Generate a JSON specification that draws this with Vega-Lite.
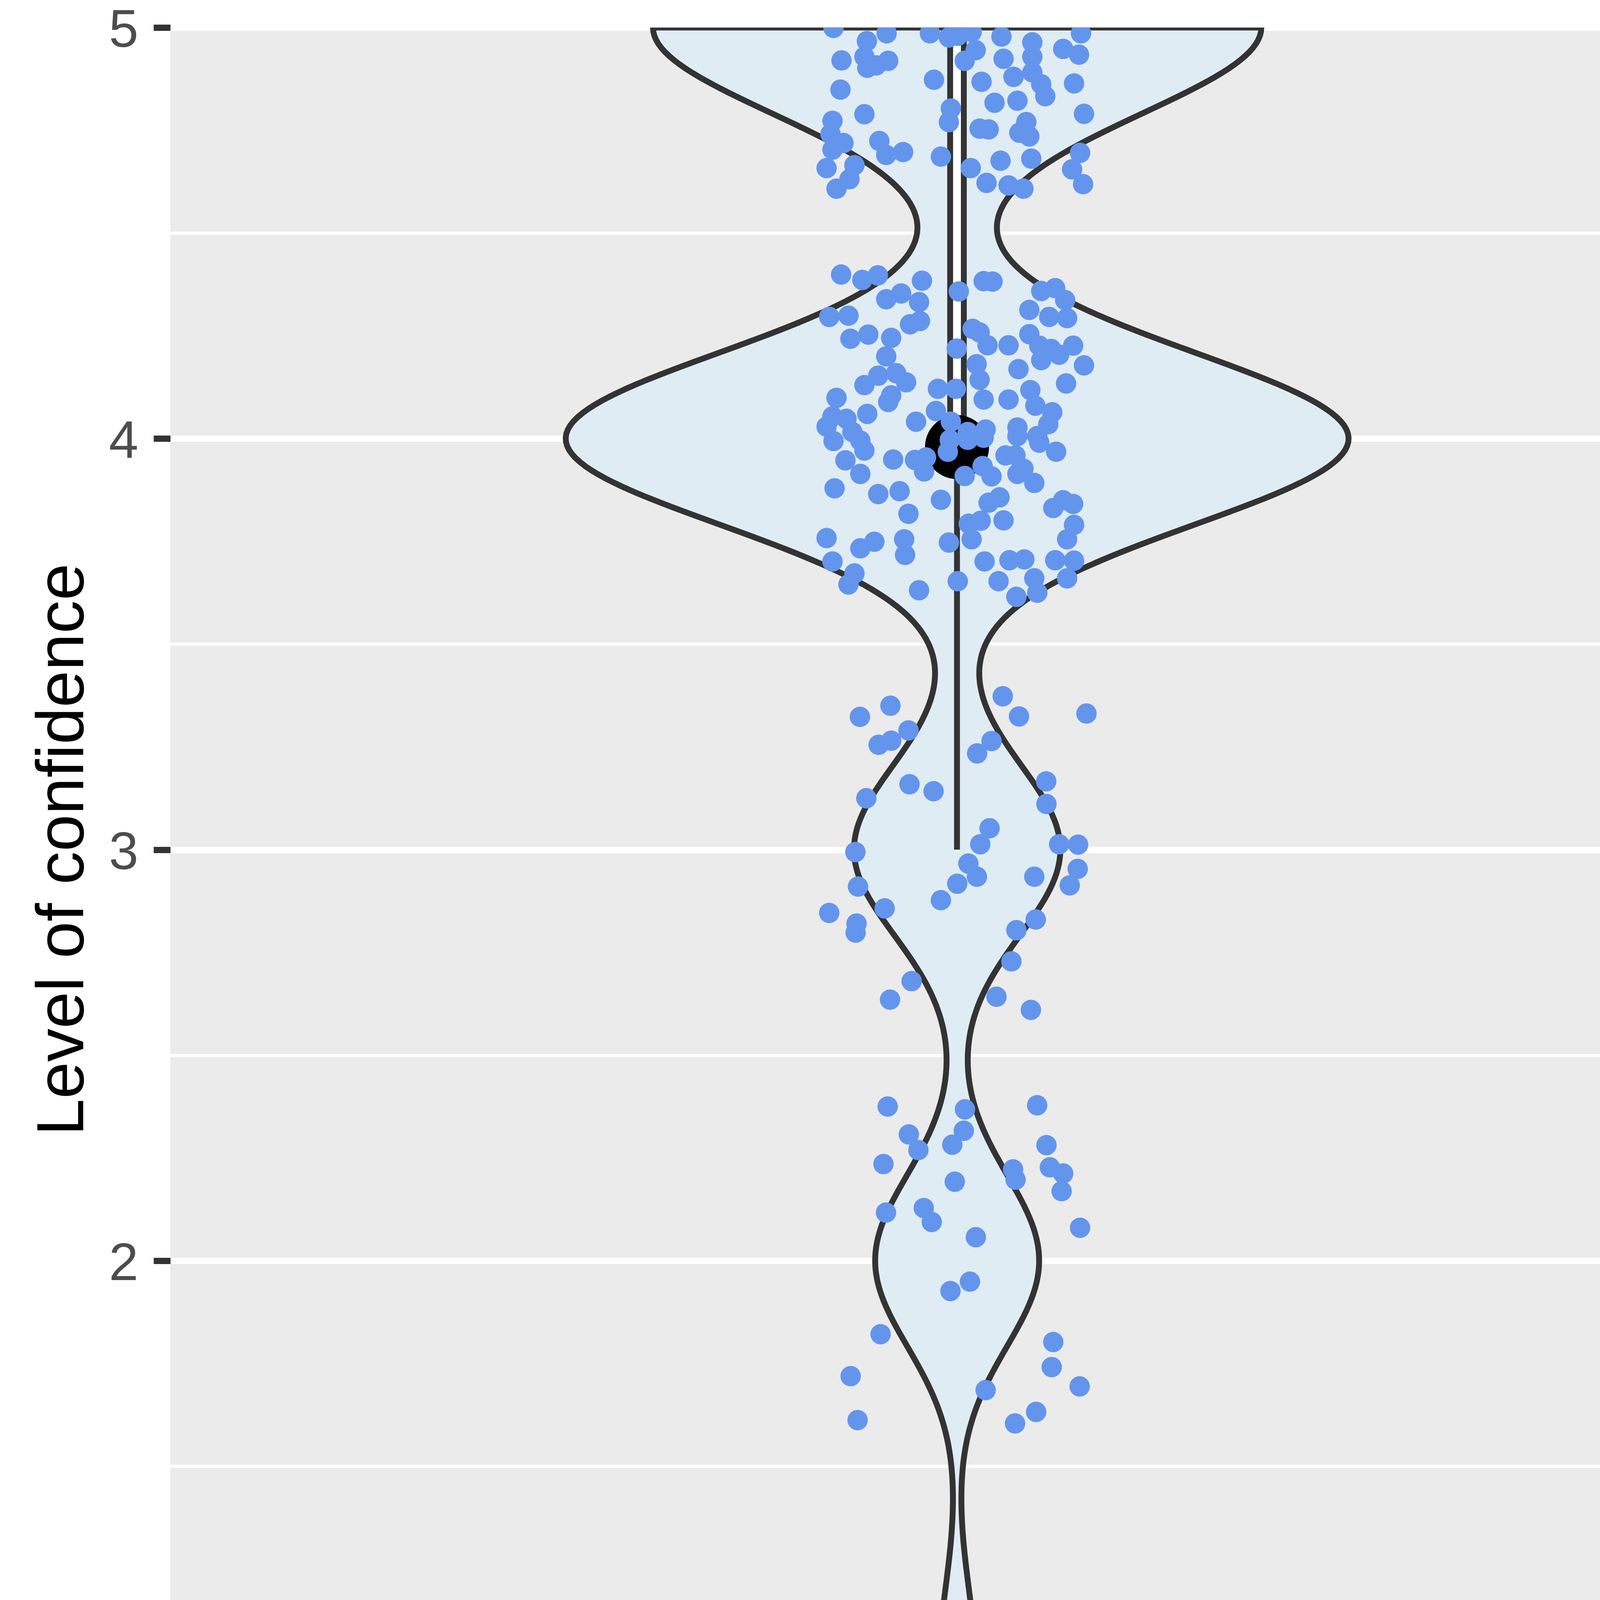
{
  "$schema": "https://vega.github.io/schema/vega-lite/v6.json",
  "background": "white",
  "padding": {"left": 76, "top": 10.5, "right": 80, "bottom": 75},
  "bounds": "flush",
  "spacing": 0,
  "config": {
    "font": "Liberation Sans",
    "view": {"fill": "#EBEBEB", "stroke": null},
    "concat": {"spacing": 0}
  },
  "datasets": {
    "control": [
      {"v":5,"jx":-0.0944,"jy":4.999},{"v":5,"jx":-0.0538,"jy":4.986},{"v":5,"jx":-0.0689,"jy":4.967},{"v":5,"jx":-0.0883,"jy":4.920},{"v":5,"jx":-0.0708,"jy":4.929},{"v":5,"jx":-0.0686,"jy":4.902},{"v":5,"jx":-0.0617,"jy":4.908},{"v":5,"jx":-0.0526,"jy":4.919},{"v":5,"jx":-0.0207,"jy":4.986},{"v":5,"jx":-0.0062,"jy":4.976},
      {"v":5,"jx":0.0006,"jy":4.980},{"v":5,"jx":0.0112,"jy":4.989},{"v":5,"jx":0.0143,"jy":4.945},{"v":5,"jx":0.0340,"jy":4.978},{"v":5,"jx":0.0576,"jy":4.964},{"v":5,"jx":0.0576,"jy":4.929},{"v":5,"jx":0.0356,"jy":4.924},{"v":5,"jx":0.0059,"jy":4.919},{"v":5,"jx":0.0948,"jy":4.986},{"v":5,"jx":0.0812,"jy":4.948},
      {"v":5,"jx":0.0933,"jy":4.934},{"v":5,"jx":-0.0891,"jy":4.849},{"v":5,"jx":-0.0176,"jy":4.873},{"v":5,"jx":0.0188,"jy":4.868},{"v":5,"jx":0.0432,"jy":4.880},{"v":5,"jx":0.0576,"jy":4.891},{"v":5,"jx":0.0644,"jy":4.862},{"v":5,"jx":0.0675,"jy":4.833},{"v":5,"jx":0.0895,"jy":4.864},{"v":5,"jx":0.0287,"jy":4.817},
      {"v":5,"jx":0.0462,"jy":4.822},{"v":5,"jx":0.0971,"jy":4.790},{"v":5,"jx":-0.0047,"jy":4.803},{"v":5,"jx":-0.0062,"jy":4.770},{"v":5,"jx":-0.0952,"jy":4.773},{"v":5,"jx":-0.0708,"jy":4.789},{"v":5,"jx":-0.0868,"jy":4.719},{"v":5,"jx":-0.0967,"jy":4.741},{"v":5,"jx":-0.0952,"jy":4.703},{"v":5,"jx":-0.0997,"jy":4.658},
      {"v":5,"jx":-0.0784,"jy":4.665},{"v":5,"jx":-0.0822,"jy":4.631},{"v":5,"jx":-0.0921,"jy":4.608},{"v":5,"jx":-0.0594,"jy":4.724},{"v":5,"jx":-0.0541,"jy":4.690},{"v":5,"jx":-0.0412,"jy":4.697},{"v":5,"jx":-0.0123,"jy":4.686},{"v":5,"jx":0.0173,"jy":4.754},{"v":5,"jx":0.0242,"jy":4.752},{"v":5,"jx":0.0530,"jy":4.770},
      {"v":5,"jx":0.0477,"jy":4.744},{"v":5,"jx":0.0553,"jy":4.735},{"v":5,"jx":0.0333,"jy":4.676},{"v":5,"jx":0.0568,"jy":4.681},{"v":5,"jx":0.0941,"jy":4.695},{"v":5,"jx":0.0880,"jy":4.655},{"v":5,"jx":0.0964,"jy":4.619},{"v":5,"jx":0.0105,"jy":4.658},{"v":5,"jx":0.0226,"jy":4.622},{"v":5,"jx":0.0394,"jy":4.616},
      {"v":5,"jx":0.0508,"jy":4.608},
      {"v":5},{"v":5},{"v":5},{"v":5},{"v":5},{"v":5},{"v":5},{"v":5},{"v":5},{"v":5},
      {"v":5},{"v":5},{"v":5},{"v":5},{"v":5},{"v":5},{"v":5},{"v":5},{"v":5},{"v":5},
      {"v":5},{"v":5},{"v":5},{"v":5},{"v":5},{"v":5},{"v":5},{"v":5},{"v":5},{"v":5},
      {"v":5},{"v":5},{"v":5},{"v":5},{"v":5},{"v":5},{"v":5},{"v":5},{"v":5},{"v":5},
      {"v":5},{"v":5},{"v":5},{"v":5},{"v":5},{"v":5},{"v":5},{"v":5},{"v":5},{"v":5},
      {"v":5},{"v":5},{"v":5},{"v":5},
      {"v":4,"jx":-0.0886,"jy":4.399},{"v":4,"jx":-0.0724,"jy":4.386},{"v":4,"jx":-0.0605,"jy":4.397},{"v":4,"jx":-0.0268,"jy":4.384},{"v":4,"jx":-0.0541,"jy":4.339},{"v":4,"jx":-0.0427,"jy":4.353},{"v":4,"jx":-0.0290,"jy":4.332},{"v":4,"jx":-0.0359,"jy":4.278},{"v":4,"jx":-0.0283,"jy":4.286},{"v":4,"jx":-0.0977,"jy":4.296},
      {"v":4,"jx":-0.0830,"jy":4.299},{"v":4,"jx":-0.0815,"jy":4.243},{"v":4,"jx":-0.0678,"jy":4.253},{"v":4,"jx":-0.0503,"jy":4.245},{"v":4,"jx":-0.0541,"jy":4.200},{"v":4,"jx":-0.0602,"jy":4.153},{"v":4,"jx":-0.0465,"jy":4.159},{"v":4,"jx":-0.0389,"jy":4.137},{"v":4,"jx":-0.0708,"jy":4.130},{"v":4,"jx":-0.0503,"jy":4.105},
      {"v":4,"jx":-0.0526,"jy":4.089},{"v":4,"jx":0.0014,"jy":4.358},{"v":4,"jx":0.0204,"jy":4.383},{"v":4,"jx":0.0272,"jy":4.382},{"v":4,"jx":0.0120,"jy":4.267},{"v":4,"jx":0.0173,"jy":4.258},{"v":4,"jx":-0.0002,"jy":4.219},{"v":4,"jx":0.0234,"jy":4.227},{"v":4,"jx":0.0394,"jy":4.227},{"v":4,"jx":0.0553,"jy":4.254},
      {"v":4,"jx":0.0629,"jy":4.226},{"v":4,"jx":0.0720,"jy":4.218},{"v":4,"jx":0.0888,"jy":4.226},{"v":4,"jx":0.0644,"jy":4.359},{"v":4,"jx":0.0751,"jy":4.366},{"v":4,"jx":0.0827,"jy":4.337},{"v":4,"jx":0.0553,"jy":4.313},{"v":4,"jx":0.0705,"jy":4.296},{"v":4,"jx":0.0842,"jy":4.293},{"v":4,"jx":0.0470,"jy":4.169},
      {"v":4,"jx":0.0971,"jy":4.178},{"v":4,"jx":0.0644,"jy":4.191},{"v":4,"jx":0.0781,"jy":4.204},{"v":4,"jx":0.0150,"jy":4.181},{"v":4,"jx":0.0834,"jy":4.134},{"v":4,"jx":0.0394,"jy":4.095},{"v":4,"jx":0.0561,"jy":4.118},{"v":4,"jx":0.0599,"jy":4.080},{"v":4,"jx":0.0728,"jy":4.064},{"v":4,"jx":0.0462,"jy":4.027},
      {"v":4,"jx":0.0698,"jy":4.035},{"v":4,"jx":0.0614,"jy":4.006},{"v":4,"jx":0.0173,"jy":4.143},{"v":4,"jx":0.0204,"jy":4.095},{"v":4,"jx":-0.0009,"jy":4.121},{"v":4,"jx":-0.0146,"jy":4.121},{"v":4,"jx":-0.0161,"jy":4.067},{"v":4,"jx":-0.0313,"jy":4.041},{"v":4,"jx":-0.0047,"jy":4.041},{"v":4,"jx":0.0082,"jy":4.016},
      {"v":4,"jx":0.0219,"jy":4.022},{"v":4,"jx":-0.0921,"jy":4.099},{"v":4,"jx":-0.0686,"jy":4.060},{"v":4,"jx":-0.0845,"jy":4.048},{"v":4,"jx":-0.0997,"jy":4.029},{"v":4,"jx":-0.0952,"jy":4.054},{"v":4,"jx":-0.0800,"jy":4.016},{"v":4,"jx":-0.0055,"jy":3.997},{"v":4,"jx":-0.0739,"jy":3.995},
      {"v":4,"jx":-0.0944,"jy":3.994},{"v":4,"jx":-0.0708,"jy":3.971},{"v":4,"jx":-0.0853,"jy":3.947},{"v":4,"jx":-0.0739,"jy":3.914},{"v":4,"jx":-0.0488,"jy":3.949},{"v":4,"jx":-0.0321,"jy":3.948},{"v":4,"jx":-0.0237,"jy":3.954},{"v":4,"jx":-0.0070,"jy":3.968},{"v":4,"jx":-0.0252,"jy":3.920},{"v":4,"jx":0.0082,"jy":3.997},
      {"v":4,"jx":0.0204,"jy":4.002},{"v":4,"jx":0.0196,"jy":3.933},{"v":4,"jx":0.0059,"jy":3.909},{"v":4,"jx":0.0264,"jy":3.908},{"v":4,"jx":0.0371,"jy":3.959},{"v":4,"jx":0.0447,"jy":3.959},{"v":4,"jx":0.0508,"jy":3.927},{"v":4,"jx":0.0462,"jy":3.914},{"v":4,"jx":0.0591,"jy":3.892},{"v":4,"jx":0.0462,"jy":4.006},
      {"v":4,"jx":0.0629,"jy":3.990},{"v":4,"jx":0.0758,"jy":3.968},{"v":4,"jx":-0.0936,"jy":3.879},{"v":4,"jx":-0.0602,"jy":3.865},{"v":4,"jx":-0.0439,"jy":3.872},{"v":4,"jx":-0.0371,"jy":3.817},{"v":4,"jx":-0.0123,"jy":3.851},{"v":4,"jx":0.0242,"jy":3.844},{"v":4,"jx":0.0325,"jy":3.857},{"v":4,"jx":0.0356,"jy":3.801},
      {"v":4,"jx":0.0181,"jy":3.800},{"v":4,"jx":0.0090,"jy":3.793},{"v":4,"jx":0.0112,"jy":3.755},{"v":4,"jx":0.0736,"jy":3.831},{"v":4,"jx":0.0812,"jy":3.850},{"v":4,"jx":0.0888,"jy":3.841},{"v":4,"jx":0.0895,"jy":3.790},{"v":4,"jx":0.0842,"jy":3.755},{"v":4,"jx":0.0751,"jy":3.704},{"v":4,"jx":0.0895,"jy":3.703},
      {"v":4,"jx":0.0842,"jy":3.660},{"v":4,"jx":-0.0997,"jy":3.758},{"v":4,"jx":-0.0952,"jy":3.701},{"v":4,"jx":-0.0739,"jy":3.733},{"v":4,"jx":-0.0632,"jy":3.749},{"v":4,"jx":-0.0404,"jy":3.755},{"v":4,"jx":-0.0397,"jy":3.717},{"v":4,"jx":-0.0062,"jy":3.747},{"v":4,"jx":-0.0784,"jy":3.672},{"v":4,"jx":-0.0830,"jy":3.645},
      {"v":4,"jx":0.0211,"jy":3.701},{"v":4,"jx":0.0401,"jy":3.704},{"v":4,"jx":0.0515,"jy":3.706},{"v":4,"jx":0.0318,"jy":3.653},{"v":4,"jx":0.0591,"jy":3.660},{"v":4,"jx":0.0614,"jy":3.625},{"v":4,"jx":0.0454,"jy":3.615},{"v":4,"jx":0.0006,"jy":3.653},{"v":4,"jx":-0.0290,"jy":3.631},
      {"v":4},{"v":4},{"v":4},{"v":4},{"v":4},{"v":4},{"v":4},{"v":4},{"v":4},{"v":4},
      {"v":4},{"v":4},{"v":4},{"v":4},{"v":4},{"v":4},{"v":4},{"v":4},{"v":4},{"v":4},
      {"v":3,"jx":-0.0742,"jy":3.323},{"v":3,"jx":-0.0509,"jy":3.350},{"v":3,"jx":-0.0371,"jy":3.290},{"v":3,"jx":-0.0599,"jy":3.255},{"v":3,"jx":-0.0503,"jy":3.265},{"v":3,"jx":0.0350,"jy":3.373},{"v":3,"jx":0.0474,"jy":3.324},{"v":3,"jx":0.0990,"jy":3.331},{"v":3,"jx":0.0154,"jy":3.234},{"v":3,"jx":0.0264,"jy":3.264},
      {"v":3,"jx":-0.0363,"jy":3.159},{"v":3,"jx":-0.0179,"jy":3.142},{"v":3,"jx":-0.0693,"jy":3.125},{"v":3,"jx":0.0682,"jy":3.166},{"v":3,"jx":0.0684,"jy":3.111},{"v":3,"jx":0.0249,"jy":3.052},{"v":3,"jx":0.0178,"jy":3.013},{"v":3,"jx":0.0781,"jy":3.013},{"v":3,"jx":0.0926,"jy":3.012},{"v":3,"jx":-0.0777,"jy":2.994},
      {"v":3,"jx":0.0087,"jy":2.966},{"v":3,"jx":0.0152,"jy":2.934},{"v":3,"jx":0.0923,"jy":2.953},{"v":3,"jx":0.0591,"jy":2.934},{"v":3,"jx":0.0002,"jy":2.917},{"v":3,"jx":0.0862,"jy":2.913},{"v":3,"jx":-0.0757,"jy":2.910},{"v":3,"jx":-0.0123,"jy":2.877},{"v":3,"jx":-0.0977,"jy":2.846},{"v":3,"jx":-0.0553,"jy":2.857},
      {"v":3,"jx":-0.0768,"jy":2.820},{"v":3,"jx":-0.0775,"jy":2.798},{"v":3,"jx":0.0602,"jy":2.830},{"v":3,"jx":0.0454,"jy":2.804},{"v":3,"jx":0.0416,"jy":2.728},{"v":3,"jx":-0.0347,"jy":2.680},{"v":3,"jx":-0.0512,"jy":2.635},{"v":3,"jx":0.0302,"jy":2.642},{"v":3,"jx":0.0565,"jy":2.610},
      {"v":2,"jx":-0.0530,"jy":2.375},{"v":2,"jx":0.0613,"jy":2.378},{"v":2,"jx":0.0061,"jy":2.368},{"v":2,"jx":-0.0368,"jy":2.307},{"v":2,"jx":0.0052,"jy":2.316},{"v":2,"jx":-0.0295,"jy":2.269},{"v":2,"jx":-0.0036,"jy":2.282},{"v":2,"jx":0.0684,"jy":2.281},{"v":2,"jx":-0.0562,"jy":2.235},{"v":2,"jx":0.0429,"jy":2.222},
      {"v":2,"jx":0.0710,"jy":2.227},{"v":2,"jx":0.0812,"jy":2.212},{"v":2,"jx":0.0448,"jy":2.197},{"v":2,"jx":0.0800,"jy":2.169},{"v":2,"jx":-0.0017,"jy":2.192},{"v":2,"jx":-0.0543,"jy":2.117},{"v":2,"jx":-0.0254,"jy":2.128},{"v":2,"jx":-0.0193,"jy":2.094},{"v":2,"jx":0.0144,"jy":2.057},{"v":2,"jx":0.0941,"jy":2.080},
      {"v":2,"jx":0.0099,"jy":1.949},{"v":2,"jx":-0.0050,"jy":1.926},{"v":2,"jx":-0.0584,"jy":1.821},{"v":2,"jx":0.0736,"jy":1.802},{"v":2,"jx":0.0724,"jy":1.741},{"v":2,"jx":-0.0813,"jy":1.719},{"v":2,"jx":0.0938,"jy":1.694},{"v":2,"jx":0.0219,"jy":1.685},{"v":2,"jx":0.0605,"jy":1.632},{"v":2,"jx":0.0444,"jy":1.604},
      {"v":2,"jx":-0.0760,"jy":1.612},
      {"v":1,"jx":0.0410,"jy":1.112},{"v":1,"jx":0.0845,"jy":1.138},
      {"v":1},{"v":1},{"v":1},{"v":1},{"v":1}
    ],
    "treatment": [
      {"v":5,"jx":-0.0923,"jy":4.989},{"v":5,"jx":-0.0274,"jy":4.953},{"v":5,"jx":-0.0178,"jy":4.900},{"v":5,"jx":-0.0027,"jy":4.919},{"v":5,"jx":0.0160,"jy":4.963},{"v":5,"jx":0.0304,"jy":4.956},{"v":5,"jx":0.0266,"jy":4.919},{"v":5,"jx":0.0251,"jy":4.905},{"v":5,"jx":0.0524,"jy":4.920},{"v":5,"jx":0.0448,"jy":4.873},
      {"v":5,"jx":0.0676,"jy":4.852},{"v":5,"jx":0.0889,"jy":4.861},{"v":5,"jx":0.0874,"jy":4.830},{"v":5,"jx":0.0958,"jy":4.827},{"v":5,"jx":0.0395,"jy":4.813},{"v":5,"jx":0.0532,"jy":4.817},{"v":5,"jx":0.0730,"jy":4.774},{"v":5,"jx":0.0692,"jy":4.719},{"v":5,"jx":0.0790,"jy":4.985},{"v":5,"jx":-0.0847,"jy":4.832},
      {"v":5,"jx":-0.0608,"jy":4.820},{"v":5,"jx":-0.0631,"jy":4.789},{"v":5,"jx":-0.0464,"jy":4.849},{"v":5,"jx":-0.0854,"jy":4.774},{"v":5,"jx":-0.0775,"jy":4.747},{"v":5,"jx":-0.0372,"jy":4.765},{"v":5,"jx":-0.0258,"jy":4.743},{"v":5,"jx":-0.0122,"jy":4.791},{"v":5,"jx":-0.0061,"jy":4.755},{"v":5,"jx":-0.0152,"jy":4.699},
      {"v":5,"jx":-0.0357,"jy":4.670},{"v":5,"jx":-0.0372,"jy":4.615},{"v":5,"jx":0.0129,"jy":4.719},{"v":5,"jx":0.0296,"jy":4.721},{"v":5,"jx":0.0327,"jy":4.697},
      {"v":5},{"v":5},{"v":5},{"v":5},{"v":5},{"v":5},{"v":5},{"v":5},{"v":5},{"v":5},
      {"v":5},{"v":5},{"v":5},{"v":5},{"v":5},{"v":5},{"v":5},{"v":5},{"v":5},{"v":5},
      {"v":5},{"v":5},{"v":5},{"v":5},{"v":5},{"v":5},{"v":5},{"v":5},{"v":5},{"v":5},
      {"v":5},{"v":5},{"v":5},{"v":5},{"v":5},{"v":5},{"v":5},{"v":5},
      {"v":4,"jx":-0.0714,"jy":4.398},{"v":4,"jx":-0.0851,"jy":4.349},{"v":4,"jx":-0.0859,"jy":4.320},{"v":4,"jx":-0.0935,"jy":4.301},{"v":4,"jx":-0.0395,"jy":4.378},{"v":4,"jx":-0.0319,"jy":4.378},{"v":4,"jx":0.0524,"jy":4.387},{"v":4,"jx":0.0684,"jy":4.362},{"v":4,"jx":0.0783,"jy":4.368},{"v":4,"jx":0.0783,"jy":4.330},
      {"v":4,"jx":-0.0980,"jy":4.199},{"v":4,"jx":-0.0702,"jy":4.164},{"v":4,"jx":-0.0894,"jy":4.106},{"v":4,"jx":-0.0912,"jy":4.033},{"v":4,"jx":-0.0512,"jy":4.055},{"v":4,"jx":-0.0246,"jy":4.068},{"v":4,"jx":-0.0334,"jy":3.978},{"v":4,"jx":-0.0179,"jy":3.950},{"v":4,"jx":-0.0400,"jy":3.881},{"v":4,"jx":-0.0950,"jy":3.859},
      {"v":4,"jx":-0.0760,"jy":3.848},{"v":4,"jx":-0.0646,"jy":3.764},{"v":4,"jx":-0.0216,"jy":3.784},{"v":4,"jx":-0.0201,"jy":3.755},{"v":4,"jx":-0.0423,"jy":3.720},{"v":4,"jx":-0.0690,"jy":3.676},{"v":4,"jx":-0.0506,"jy":3.637},{"v":4,"jx":-0.0429,"jy":3.663},{"v":4,"jx":-0.0365,"jy":3.662},{"v":4,"jx":0.0322,"jy":4.145},
      {"v":4,"jx":0.0465,"jy":4.175},{"v":4,"jx":0.0567,"jy":4.150},{"v":4,"jx":0.0049,"jy":4.026},{"v":4,"jx":0.0164,"jy":3.953},{"v":4,"jx":0.0441,"jy":3.972},{"v":4,"jx":0.0608,"jy":4.025},{"v":4,"jx":0.0714,"jy":3.969},{"v":4,"jx":0.0342,"jy":3.905},{"v":4,"jx":0.0486,"jy":3.918},{"v":4,"jx":0.0322,"jy":3.883},
      {"v":4,"jx":0.0185,"jy":3.838},{"v":4,"jx":0.0509,"jy":3.854},{"v":4,"jx":0.0684,"jy":3.796},{"v":4,"jx":0.0109,"jy":3.726},{"v":4,"jx":0.0271,"jy":3.736},{"v":4,"jx":0.0654,"jy":3.739},{"v":4,"jx":0.0711,"jy":3.720},{"v":4,"jx":0.0307,"jy":3.681},{"v":4,"jx":0.0286,"jy":3.667},{"v":4,"jx":0.0573,"jy":3.619},
      {"v":4,"jx":0.0935,"jy":3.697},{"v":4,"jx":0.0930,"jy":3.648},{"v":4,"jx":0.0866,"jy":3.605},
      {"v":4},{"v":4},{"v":4},{"v":4},
      {"v":3,"jx":-0.0924,"jy":3.336},{"v":3,"jx":-0.0254,"jy":3.321},{"v":3,"jx":0.0570,"jy":3.371},{"v":3,"jx":0.0886,"jy":3.342},{"v":3,"jx":-0.0328,"jy":3.075},{"v":3,"jx":-0.0140,"jy":3.064},{"v":3,"jx":0.0122,"jy":3.115},{"v":3,"jx":-0.0331,"jy":3.008},{"v":3,"jx":-0.0581,"jy":2.966},{"v":3,"jx":0.0657,"jy":2.934},
      {"v":3,"jx":0.0064,"jy":2.864},{"v":3,"jx":-0.0777,"jy":2.684},{"v":3,"jx":-0.0500,"jy":2.702},{"v":3,"jx":0.0631,"jy":2.607},{"v":3,"jx":0.0924,"jy":2.615},
      {"v":2,"jx":0.0287,"jy":2.327},{"v":2,"jx":-0.0231,"jy":2.225},{"v":2,"jx":-0.0904,"jy":2.243},{"v":2,"jx":-0.0760,"jy":2.116},{"v":2,"jx":-0.0988,"jy":1.794},{"v":2,"jx":0.0451,"jy":1.727},{"v":2,"jx":-0.0084,"jy":1.602},
      {"v":1,"jx":0.0947,"jy":1.382},{"v":1,"jx":0.0451,"jy":1.255},{"v":1,"jx":-0.0205,"jy":1.173},
      {"v":1}
    ]
  },
  "hconcat": [
    {
      "width": 3693,
      "height": 4209,
      "data": {"name": "control"},
      "resolve": {"scale": {"x": "independent"}},
      "layer": [
        {
          "transform": [{"density": "v", "bandwidth": 0.2093, "extent": [1, 5], "steps": 401, "as": ["value", "density"]}],
          "mark": {"type": "area", "orient": "horizontal", "fill": "#E0ECF4", "stroke": "#333333", "strokeWidth": 15, "clip": true},
          "encoding": {
            "y": {
              "field": "value", "type": "quantitative",
              "scale": {"domain": [1, 5], "nice": false, "zero": false},
              "axis": {
                "values": [1, 1.5, 2, 2.5, 3, 3.5, 4, 4.5, 5],
                "labelExpr": "datum.value % 1 === 0 ? format(datum.value, 'd') : ''",
                "title": "Level of confidence",
                "grid": true,
                "gridColor": "#FFFFFF",
                "gridWidth": {"condition": {"test": "datum.value % 1 === 0", "value": 16}, "value": 8},
                "domain": false,
                "ticks": true,
                "tickSize": 43,
                "tickWidth": 16,
                "tickColor": {"condition": {"test": "datum.value % 1 === 0", "value": "#333333"}, "value": "rgba(0,0,0,0)"},
                "labelFont": "Liberation Sans",
                "labelFontSize": 136,
                "labelColor": "#4D4D4D",
                "labelPadding": 39,
                "labelAlign": "right",
                "labelBaseline": "alphabetic",
                "labelOffset": 49,
                "labelLimit": 1000,
                "labelFlush": false,
                "labelOverlap": false,
                "labelBound": false,
                "titleFont": "Liberation Sans",
                "titleFontSize": 170,
                "titleFontWeight": "normal",
                "titleColor": "#000000",
                "titleAngle": 270,
                "titleX": -224,
                "titleY": 2104,
                "titleAlign": "center",
                "titleBaseline": "alphabetic",
                "titleLimit": 5000
              }
            },
            "x": {
              "field": "density", "type": "quantitative", "stack": "center",
              "scale": {"domain": [-0.41904, 1.10976], "nice": false, "zero": false},
              "axis": null
            }
          }
        },
        {
          "layer": [
            {
              "transform": [
                {"joinaggregate": [{"op": "q1", "field": "v", "as": "q1"}, {"op": "q3", "field": "v", "as": "q3"}]},
                {"filter": "datum.v >= datum.q1 - 1.5 * (datum.q3 - datum.q1)"},
                {"aggregate": [{"op": "min", "field": "v", "as": "lo"}, {"op": "max", "field": "q1", "as": "q1"}, {"op": "max", "field": "q3", "as": "q3"}]}
              ],
              "layer": [
                {
                  "mark": {"type": "rule", "color": "#333333", "strokeWidth": 15, "clip": true},
                  "encoding": {
                    "x": {
                      "datum": 0, "type": "quantitative",
                      "scale": {"domain": [-0.6, 0.5], "nice": false, "zero": false},
                      "axis": {
                        "values": [0],
                        "labelExpr": "'Control'",
                        "title": "Treatment vs. Control",
                        "grid": false,
                        "domain": false,
                        "ticks": true,
                        "tickSize": 43,
                        "tickWidth": 16,
                        "tickColor": "#333333",
                        "labelFont": "Liberation Sans",
                        "labelFontSize": 136,
                        "labelColor": "#4D4D4D",
                        "labelBaseline": "alphabetic",
                        "labelPadding": 134,
                        "labelAlign": "center",
                        "labelLimit": 1000,
                        "labelFlush": false,
                        "labelOverlap": false,
                        "titleFont": "Liberation Sans",
                        "titleFontSize": 170,
                        "titleFontWeight": "normal",
                        "titleColor": "#000000",
                        "titleX": 3693,
                        "titleY": 368,
                        "titleAlign": "center",
                        "titleBaseline": "alphabetic",
                        "titleLimit": 5000
                      }
                    },
                    "y": {"field": "lo", "type": "quantitative", "scale": {"domain": [1, 5], "nice": false, "zero": false}},
                    "y2": {"field": "q1"}
                  }
                },
                {
                  "mark": {"type": "bar", "fill": "#FFFFFF", "stroke": "#333333", "strokeWidth": 15, "width": 35, "clip": true},
                  "encoding": {
                    "x": {"datum": 0, "type": "quantitative", "scale": {"domain": [-0.6, 0.5], "nice": false, "zero": false}},
                    "y": {"field": "q1", "type": "quantitative", "scale": {"domain": [1, 5], "nice": false, "zero": false}},
                    "y2": {"field": "q3"}
                  }
                }
              ]
            },
            {
              "transform": [{"aggregate": [{"op": "median", "field": "v", "as": "med"}]}],
              "mark": {"type": "tick", "orient": "horizontal", "color": "#333333", "thickness": 28, "size": 35, "opacity": 1},
              "encoding": {
                "x": {"datum": 0, "type": "quantitative", "scale": {"domain": [-0.6, 0.5], "nice": false, "zero": false}},
                "y": {"field": "med", "type": "quantitative", "scale": {"domain": [1, 5], "nice": false, "zero": false}}
              }
            },
            {
              "transform": [{"aggregate": [{"op": "mean", "field": "v", "as": "mean"}]}],
              "mark": {"type": "point", "filled": true, "color": "#000000", "opacity": 1, "size": 26880, "strokeWidth": 0},
              "encoding": {
                "x": {"datum": 0, "type": "quantitative", "scale": {"domain": [-0.6, 0.5], "nice": false, "zero": false}},
                "y": {"field": "mean", "type": "quantitative", "scale": {"domain": [1, 5], "nice": false, "zero": false}}
              }
            },
            {
              "transform": [{"filter": "isValid(datum.jy)"}],
              "mark": {"type": "point", "filled": true, "color": "#6495ED", "opacity": 1, "size": 2734, "strokeWidth": 0, "clip": true},
              "encoding": {
                "x": {"field": "jx", "type": "quantitative", "scale": {"domain": [-0.6, 0.5], "nice": false, "zero": false}},
                "y": {"field": "jy", "type": "quantitative", "scale": {"domain": [1, 5], "nice": false, "zero": false}}
              }
            }
          ]
        }
      ]
    },
    {
      "width": 3693,
      "height": 4209,
      "data": {"name": "treatment"},
      "resolve": {"scale": {"x": "independent"}},
      "layer": [
        {
          "transform": [{"density": "v", "bandwidth": 0.2446, "extent": [1, 5], "steps": 401, "as": ["value", "density"]}],
          "mark": {"type": "area", "orient": "horizontal", "fill": "#9EBCDA", "stroke": "#333333", "strokeWidth": 15, "clip": true},
          "encoding": {
            "y": {
              "field": "value", "type": "quantitative",
              "scale": {"domain": [1, 5], "nice": false, "zero": false},
              "axis": {
                "values": [1, 1.5, 2, 2.5, 3, 3.5, 4, 4.5, 5],
                "labels": false,
                "ticks": false,
                "domain": false,
                "title": null,
                "grid": true,
                "gridColor": "#FFFFFF",
                "gridWidth": {"condition": {"test": "datum.value % 1 === 0", "value": 16}, "value": 8}
              }
            },
            "x": {
              "field": "density", "type": "quantitative", "stack": "center",
              "scale": {"domain": [-0.31322, 1.21558], "nice": false, "zero": false},
              "axis": null
            }
          }
        },
        {
          "layer": [
            {
              "transform": [
                {"joinaggregate": [{"op": "q1", "field": "v", "as": "q1"}, {"op": "q3", "field": "v", "as": "q3"}]},
                {"filter": "datum.v >= datum.q1 - 1.5 * (datum.q3 - datum.q1)"},
                {"aggregate": [{"op": "min", "field": "v", "as": "lo"}, {"op": "max", "field": "q1", "as": "q1"}, {"op": "max", "field": "q3", "as": "q3"}]}
              ],
              "layer": [
                {
                  "mark": {"type": "rule", "color": "#333333", "strokeWidth": 15, "clip": true},
                  "encoding": {
                    "x": {
                      "datum": 0, "type": "quantitative",
                      "scale": {"domain": [-0.5, 0.6], "nice": false, "zero": false},
                      "axis": {
                        "values": [0],
                        "labelExpr": "'Treatment'",
                        "title": null,
                        "grid": false,
                        "domain": false,
                        "ticks": true,
                        "tickSize": 43,
                        "tickWidth": 16,
                        "tickColor": "#333333",
                        "labelFont": "Liberation Sans",
                        "labelFontSize": 136,
                        "labelColor": "#4D4D4D",
                        "labelBaseline": "alphabetic",
                        "labelPadding": 134,
                        "labelAlign": "center",
                        "labelLimit": 1000,
                        "labelFlush": false,
                        "labelOverlap": false
                      }
                    },
                    "y": {"field": "lo", "type": "quantitative", "scale": {"domain": [1, 5], "nice": false, "zero": false}},
                    "y2": {"field": "q1"}
                  }
                },
                {
                  "mark": {"type": "bar", "fill": "#FFFFFF", "stroke": "#333333", "strokeWidth": 15, "width": 35, "clip": true},
                  "encoding": {
                    "x": {"datum": 0, "type": "quantitative", "scale": {"domain": [-0.5, 0.6], "nice": false, "zero": false}},
                    "y": {"field": "q1", "type": "quantitative", "scale": {"domain": [1, 5], "nice": false, "zero": false}},
                    "y2": {"field": "q3"}
                  }
                }
              ]
            },
            {
              "transform": [{"aggregate": [{"op": "median", "field": "v", "as": "med"}]}],
              "mark": {"type": "tick", "orient": "horizontal", "color": "#333333", "thickness": 28, "size": 35, "opacity": 1},
              "encoding": {
                "x": {"datum": 0, "type": "quantitative", "scale": {"domain": [-0.5, 0.6], "nice": false, "zero": false}},
                "y": {"field": "med", "type": "quantitative", "scale": {"domain": [1, 5], "nice": false, "zero": false}}
              }
            },
            {
              "transform": [{"aggregate": [{"op": "mean", "field": "v", "as": "mean"}]}],
              "mark": {"type": "point", "filled": true, "color": "#000000", "opacity": 1, "size": 26880, "strokeWidth": 0},
              "encoding": {
                "x": {"datum": 0, "type": "quantitative", "scale": {"domain": [-0.5, 0.6], "nice": false, "zero": false}},
                "y": {"field": "mean", "type": "quantitative", "scale": {"domain": [1, 5], "nice": false, "zero": false}}
              }
            },
            {
              "transform": [{"filter": "isValid(datum.jy)"}],
              "mark": {"type": "point", "filled": true, "color": "#6495ED", "opacity": 1, "size": 2734, "strokeWidth": 0, "clip": true},
              "encoding": {
                "x": {"field": "jx", "type": "quantitative", "scale": {"domain": [-0.5, 0.6], "nice": false, "zero": false}},
                "y": {"field": "jy", "type": "quantitative", "scale": {"domain": [1, 5], "nice": false, "zero": false}}
              }
            }
          ]
        }
      ]
    }
  ]
}
